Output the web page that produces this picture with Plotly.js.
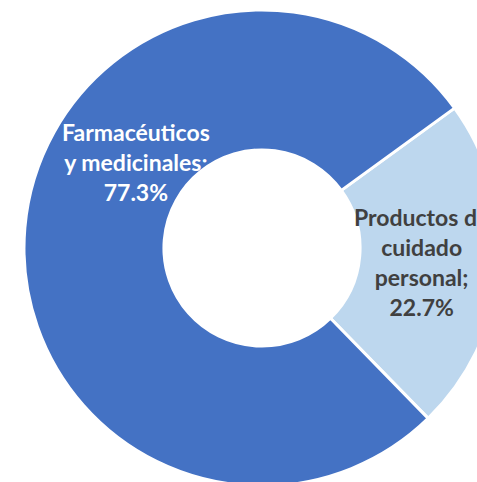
<!DOCTYPE html>
<html>
<head>
<meta charset="utf-8">
<script src="https://cdn.plot.ly/plotly-3.0.1.min.js"></script>
<style>
  html, body { margin: 0; padding: 0; overflow: hidden; background: #ffffff; width: 477px; height: 482px; }
  #chart { position: absolute; left: 0; top: 0; width: 524px; height: 486px; }
</style>
</head>
<body>
<div id="chart"></div>
<script>
// Data
const categories = ['Productos de cuidado personal', 'Farmacéuticos y medicinales'];
const labelLines = ['Productos de<br>cuidado<br>personal', 'Farmacéuticos<br>y medicinales'];
const shares = [22.7, 77.3];
const sliceColors = ['#BDD7EE', '#4472C4'];
const textColors = ['#404040', '#FFFFFF'];

const labelText = labelLines.map((l, i) => l + ';<br>' + shares[i].toFixed(1) + '%');

const trace = {
  type: 'pie',
  labels: categories,
  values: shares,
  hole: 0.412,
  sort: false,
  direction: 'clockwise',
  rotation: 54,
  textinfo: 'none',
  hoverinfo: 'skip',
  marker: { colors: sliceColors, line: { color: '#FFFFFF', width: 3 } },
  domain: { x: [0, 1], y: [0, 1] }
};

// label anchor positions (paper coordinates)
const labelPos = [
  { x: 421 / 524, y: 1 - (262 - 10) / 476 },
  { x: 136 / 524, y: 1 - (162 - 10) / 476 }
];

const annotations = labelText.map((t, i) => ({
  text: '<b>' + t + '</b>',
  xref: 'paper', yref: 'paper',
  x: labelPos[i].x, y: labelPos[i].y,
  xanchor: 'center', yanchor: 'middle',
  showarrow: false,
  align: 'center',
  font: { family: 'Lato, "Open Sans", sans-serif', size: 23, color: textColors[i] }
}));

const layout = {
  width: 524,
  height: 486,
  margin: { l: 0, r: 0, t: 10, b: 0, pad: 0 },
  paper_bgcolor: '#FFFFFF',
  plot_bgcolor: '#FFFFFF',
  showlegend: false,
  annotations: annotations
};

Plotly.newPlot('chart', [trace], layout, { displayModeBar: false, staticPlot: true });
</script>
</body>
</html>
